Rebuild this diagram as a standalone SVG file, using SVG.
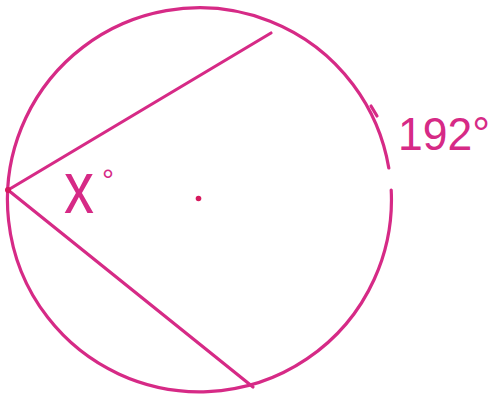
<svg xmlns="http://www.w3.org/2000/svg" width="494" height="400" viewBox="0 0 494 400">
<style>
.ln{fill:none;stroke:#d62a86;stroke-width:3.2;stroke-linecap:round}
.lbl{fill:#d62a86;font-family:"Liberation Sans",Arial,sans-serif}
</style>
<rect width="494" height="400" fill="#ffffff"/>
<g id="circle">
<path class="ln" d="M 391.2 190 A 192 192 0 1 1 388.8 168"/>
<path class="ln" d="M 371 106 L 377 116" stroke-width="2.5"/>
</g>
<g id="center">
<circle cx="198.5" cy="198.5" r="2.8" fill="#d61a5e"/>
</g>
<g id="connectors">
<line class="ln" x1="8" y1="190" x2="271" y2="33"/>
<line class="ln" x1="8" y1="190" x2="253" y2="387"/>
</g>
<g id="vertex">
<circle cx="8" cy="190" r="3" fill="#d61a5e"/>
</g>
<g id="label-x">
<text class="lbl" x="0" y="0" font-size="60" transform="translate(64,213) scale(1,1.25)">x</text>
<text class="lbl" x="102" y="190" font-size="30">°</text>
</g>
<g id="label-192">
<text class="lbl" x="398" y="150" font-size="46" textLength="92" lengthAdjust="spacingAndGlyphs">192°</text>
</g>
</svg>
